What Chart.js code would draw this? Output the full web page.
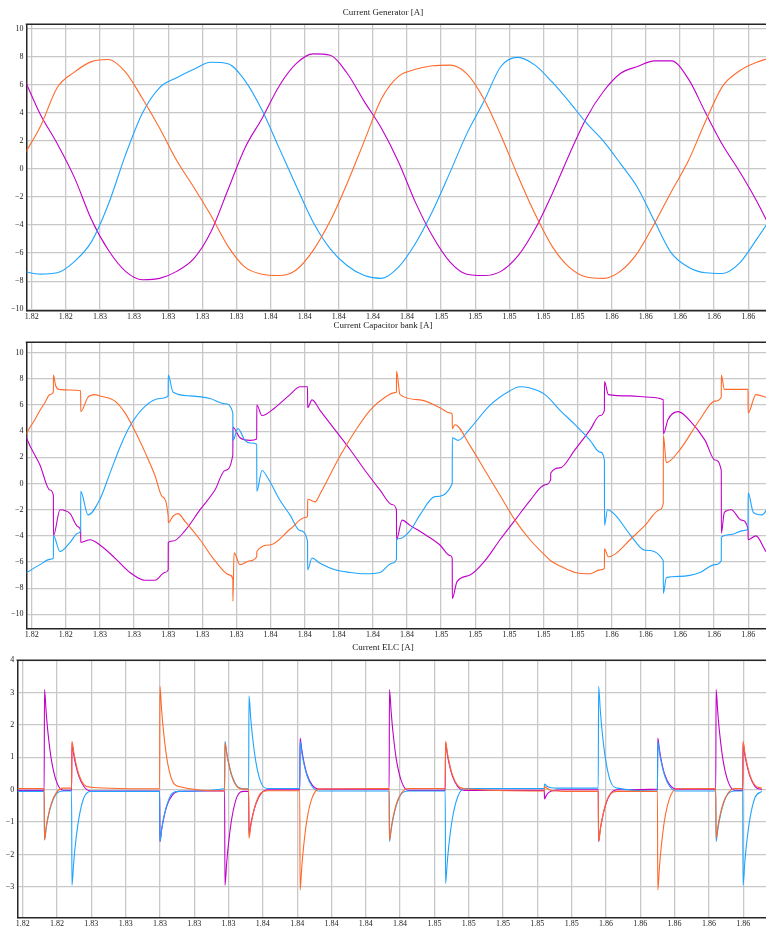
<!DOCTYPE html>
<html>
<head>
<meta charset="utf-8">
<script src="https://cdn.jsdelivr.net/npm/chart.js@4/dist/chart.umd.min.js"></script>
<style>
  html, body { margin: 0; padding: 0; background: #fff; width: 766px; height: 928px; overflow: hidden; }
  .panel { position: absolute; left: 0; width: 766px; }
</style>
</head>
<body>
<div class="panel" style="top:0;height:322px"><canvas id="gen"></canvas></div>
<div class="panel" style="top:312px;height:330px"><canvas id="cap"></canvas></div>
<div class="panel" style="top:636px;height:292px"><canvas id="elc"></canvas></div>
<script>
// ---- shared tick values (time axis, seconds) ----
const timeTicks = [1.822, 1.824, 1.826, 1.828, 1.830, 1.832, 1.834, 1.836, 1.838, 1.840, 1.842,
                   1.844, 1.846, 1.848, 1.850, 1.852, 1.854, 1.856, 1.858, 1.860, 1.862, 1.864];
const genTicks = [-10, -8, -6, -4, -2, 0, 2, 4, 6, 8, 10];
const capTicks = [-10, -8, -6, -4, -2, 0, 2, 4, 6, 8, 10];
const elcTicks = [-3, -2, -1, 0, 1, 2, 3, 4];

// ---- Generator currents [A] ----
const genTime = [1.8215, 1.8225, 1.8235, 1.8245, 1.8255, 1.8265, 1.8275, 1.8285, 1.8295, 1.8305,
                 1.8315, 1.8325, 1.8335, 1.8345, 1.8355, 1.8365, 1.8375, 1.8385, 1.8395, 1.8405,
                 1.8415, 1.8425, 1.8435, 1.8445, 1.8455, 1.8465, 1.8475, 1.8485, 1.8495, 1.8505,
                 1.8515, 1.8525, 1.8535, 1.8545, 1.8555, 1.8565, 1.8575, 1.8585, 1.8595, 1.8605,
                 1.8615, 1.8625, 1.8635, 1.8645, 1.8655];
const genA = [0.9, 3.0, 5.8, 6.9, 7.65, 7.8, 6.9, 5.0, 2.9, 0.6,
              -1.3, -3.3, -5.5, -7.0, -7.5, -7.6, -7.2, -5.8, -3.7, -1.0,
              2.0, 5.0, 6.6, 7.1, 7.35, 7.4, 6.8, 5.0, 2.4, -0.5,
              -3.2, -5.5, -7.0, -7.7, -7.8, -7.3, -6.0, -3.9, -1.6, 0.6,
              3.4, 5.9, 7.0, 7.6, 8.0];
const genB = [-7.3, -7.5, -7.4, -6.6, -5.2, -2.5, 1.0, 4.0, 5.8, 6.5,
              7.1, 7.6, 7.5, 6.3, 4.2, 1.5, -1.2, -3.8, -5.7, -6.9,
              -7.6, -7.8, -7.0, -5.3, -3.0, -0.3, 2.5, 4.8, 7.3, 7.95,
              7.4, 6.2, 4.8, 3.3, 2.0, 0.4, -1.3, -3.7, -6.0, -7.0,
              -7.4, -7.45, -6.7, -5.0, -3.2];
const genC = [6.6, 3.9, 1.8, -0.6, -3.6, -5.8, -7.3, -7.9, -7.8, -7.3,
              -6.4, -4.5, -1.5, 1.5, 3.6, 5.9, 7.5, 8.2, 8.1, 6.8,
              4.8, 2.9, 0.5, -2.4, -4.8, -6.6, -7.5, -7.6, -7.3, -6.2,
              -4.3, -1.8, 1.0, 3.6, 5.5, 6.8, 7.3, 7.7, 7.7, 6.4,
              4.0, 1.7, -0.2, -2.3, -4.7];

// ---- Capacitor bank currents [A] ----
const capTimeA = [1.82160, 1.82172, 1.82219, 1.82249, 1.82278, 1.82307, 1.82327, 1.823275, 1.82340, 1.82360,
                  1.82425, 1.82487, 1.824875, 1.82530, 1.82571, 1.82600, 1.82688, 1.82747, 1.82806, 1.82864,
                  1.82923, 1.82965, 1.83000, 1.830005, 1.83028, 1.83058, 1.83099, 1.83187, 1.83274, 1.83362,
                  1.83379, 1.833795, 1.83386, 1.83421, 1.83480, 1.83519, 1.835195, 1.83597, 1.83714, 1.83802,
                  1.83817, 1.838175, 1.83861, 1.83890, 1.84007, 1.84095, 1.84183, 1.84271, 1.84330, 1.84338,
                  1.843385, 1.84359, 1.84476, 1.84593, 1.84652, 1.84665, 1.846655, 1.84681, 1.84769, 1.84857,
                  1.84945, 1.85033, 1.85121, 1.85209, 1.85242, 1.85297, 1.85385, 1.85473, 1.85531, 1.85557,
                  1.855575, 1.85580, 1.85620, 1.85707, 1.85795, 1.85883, 1.85902, 1.859025, 1.85920, 1.86000,
                  1.86117, 1.86205, 1.86242, 1.862425, 1.86260, 1.86330, 1.86399, 1.863995, 1.86445, 1.86504,
                  1.86530];
const capA = [3.6, 3.9, 4.9, 5.6, 6.2, 6.8, 7.0, 8.3, 7.5, 7.2,
              7.15, 7.1, 5.5, 6.6, 6.8, 6.7, 6.3, 5.4, 4.0, 2.4,
              0.6, -1.0, -2.5, -3.0, -2.5, -2.3, -2.9, -4.3, -5.9, -7.0,
              -7.3, -9.0, -5.3, -6.2, -5.9, -5.6, -5.2, -4.7, -3.5, -2.6,
              -2.5, -1.2, -1.4, -0.8, 2.1, 4.0, 5.6, 6.6, 6.95, 7.0,
              8.6, 6.8, 6.4, 5.8, 5.4, 5.3, 4.2, 4.5, 2.9, 1.0,
              -0.9, -2.8, -4.3, -5.5, -5.9, -6.3, -6.8, -6.9, -6.6, -6.5,
              -5.0, -5.6, -5.4, -4.3, -3.2, -2.0, -1.5, 3.7, 1.6, 2.6,
              4.9, 6.3, 6.6, 8.3, 7.2, 7.2, 7.2, 5.4, 6.8, 6.6,
              6.5];
const capTimeB = [1.82160, 1.82172, 1.82249, 1.82307, 1.82327, 1.823275, 1.82366, 1.82425, 1.82471, 1.82487,
                  1.824875, 1.82530, 1.82600, 1.82659, 1.82718, 1.82776, 1.82864, 1.82952, 1.83000, 1.830005,
                  1.83028, 1.83128, 1.83245, 1.83333, 1.83379, 1.833795, 1.83409, 1.83450, 1.83480, 1.83519,
                  1.835195, 1.83550, 1.83585, 1.83656, 1.83714, 1.83773, 1.83817, 1.838175, 1.83843, 1.83890,
                  1.83978, 1.84066, 1.84154, 1.84242, 1.84312, 1.84338, 1.843385, 1.84359, 1.84418, 1.84476,
                  1.84564, 1.84665, 1.846655, 1.84699, 1.84769, 1.84887, 1.85004, 1.85062, 1.85121, 1.85209,
                  1.85297, 1.85385, 1.85473, 1.85531, 1.85557, 1.855575, 1.85575, 1.85620, 1.85707, 1.85795,
                  1.85902, 1.859025, 1.85920, 1.86000, 1.86117, 1.86205, 1.86242, 1.862425, 1.86300, 1.86370,
                  1.86399, 1.863995, 1.86430, 1.86480, 1.86530];
const capB = [-6.9, -6.8, -6.2, -5.8, -5.7, -4.0, -5.2, -4.5, -3.8, -3.6,
              -0.6, -2.4, -1.2, 0.8, 2.8, 4.4, 5.9, 6.5, 6.7, 8.3,
              7.0, 6.7, 6.5, 6.1, 5.4, 3.3, 4.2, 3.3, 3.1, 3.0,
              -0.6, 1.0, 0.4, -1.3, -2.4, -3.6, -4.4, -6.6, -5.7, -6.1,
              -6.6, -6.8, -6.9, -6.8, -6.1, -5.8, -4.3, -4.2, -3.6, -2.4,
              -1.0, 0.0, 3.5, 3.3, 4.2, 6.0, 7.1, 7.4, 7.3, 6.8,
              5.6, 4.5, 3.3, 2.4, 1.8, -3.2, -2.0, -2.4, -3.9, -5.1,
              -5.9, -8.4, -7.2, -7.1, -6.8, -6.2, -5.9, -4.1, -3.9, -3.6,
              -3.5, -0.7, -2.2, -2.4, -1.5];
const capTimeC = [1.82160, 1.82172, 1.82249, 1.82307, 1.82327, 1.823275, 1.82366, 1.82425, 1.82471, 1.82487,
                  1.824875, 1.82542, 1.82600, 1.82688, 1.82776, 1.82864, 1.82923, 1.82981, 1.83000, 1.830005,
                  1.83028, 1.83099, 1.83187, 1.83274, 1.83333, 1.83379, 1.833795, 1.83421, 1.83480, 1.83519,
                  1.835195, 1.83550, 1.83626, 1.83714, 1.83773, 1.83817, 1.838175, 1.83843, 1.83890, 1.83978,
                  1.84066, 1.84154, 1.84242, 1.84312, 1.84338, 1.843385, 1.84371, 1.84418, 1.84505, 1.84593,
                  1.84652, 1.84665, 1.846655, 1.84693, 1.84769, 1.84857, 1.84945, 1.85033, 1.85121, 1.85209,
                  1.85242, 1.852425, 1.85297, 1.85385, 1.85473, 1.85531, 1.85557, 1.855575, 1.85580, 1.85707,
                  1.85824, 1.85902, 1.859025, 1.85930, 1.85989, 1.86059, 1.86147, 1.86205, 1.86242, 1.862425,
                  1.86260, 1.86300, 1.86360, 1.86399, 1.863995, 1.86445, 1.86504, 1.86530];
const capC = [3.9, 3.4, 1.4, -0.5, -0.9, -4.0, -2.0, -2.3, -3.3, -3.6,
              -4.5, -4.3, -4.7, -5.7, -6.8, -7.4, -7.4, -6.8, -6.6, -4.5,
              -4.4, -3.6, -2.0, -0.5, 1.0, 2.2, 4.3, 3.5, 3.3, 3.4,
              6.0, 5.2, 5.8, 6.8, 7.4, 7.4, 5.8, 6.4, 5.6, 4.1,
              2.6, 1.0, -0.5, -1.6, -2.0, -4.3, -2.8, -3.2, -3.9, -4.7,
              -5.5, -5.7, -8.8, -7.5, -7.0, -5.9, -4.3, -2.8, -1.3, -0.1,
              0.3, 0.8, 1.2, 2.6, 4.1, 5.2, 5.6, 7.8, 6.8, 6.7,
              6.6, 6.4, 3.8, 4.9, 5.5, 4.8, 3.3, 1.8, 1.0, -3.8,
              -2.2, -2.0, -2.8, -3.5, -4.3, -4.0, -5.2, -5.6];

// ---- ELC currents [A] ----
const elcTime = [1.8217,
  1.82325, 1.82327, 1.82337, 1.82347, 1.82367, 1.82397, 1.82437,
  1.82485, 1.82487, 1.82497, 1.82507, 1.82527, 1.82557, 1.82597,
  1.82998, 1.83000, 1.83010, 1.83020, 1.83040, 1.83070, 1.83110,
  1.83377, 1.83379, 1.83389, 1.83399, 1.83419, 1.83449, 1.83489,
  1.83517, 1.83519, 1.83529, 1.83539, 1.83559, 1.83589, 1.83629,
  1.83815, 1.83817, 1.83827, 1.83837, 1.83857, 1.83887, 1.83927,
  1.84336, 1.84338, 1.84348, 1.84358, 1.84378, 1.84408, 1.84448,
  1.84663, 1.84665, 1.84675, 1.84685, 1.84705, 1.84735, 1.84775,
  1.85240, 1.85242, 1.85252, 1.85262, 1.85282, 1.85312, 1.85352,
  1.85555, 1.85557, 1.85567, 1.85577, 1.85597, 1.85627, 1.85667,
  1.85900, 1.85902, 1.85912, 1.85922, 1.85942, 1.85972, 1.86012,
  1.86240, 1.86242, 1.86252, 1.86262, 1.86282, 1.86312, 1.86352,
  1.86397, 1.86399, 1.86409, 1.86419, 1.86439, 1.86469, 1.86509,
  1.8655];
const elcA = [0.04,
  0.04, -1.55, -1.15, -0.85, -0.42, -0.08, 0.05,
  0.05, 1.50, 1.18, 0.90, 0.48, 0.16, 0.08,
  0.03, 3.20, 2.45, 1.85, 0.98, 0.30, 0.10,
  -0.03, 1.45, 1.12, 0.85, 0.42, 0.10, 0.02,
  0.02, -1.50, -1.15, -0.85, -0.43, -0.10, -0.03,
  -0.03, -3.10, -2.38, -1.78, -0.92, -0.25, 0.02,
  0.04, -1.55, -1.18, -0.88, -0.44, -0.10, 0.04,
  0.04, 1.50, 1.16, 0.88, 0.46, 0.14, 0.03,
  -0.04, 0.10, 0.06, 0.03, -0.02, -0.04, -0.05,
  -0.05, -1.60, -1.22, -0.92, -0.47, -0.12, -0.05,
  -0.05, -3.10, -2.38, -1.78, -0.92, -0.25, 0.03,
  0.04, -1.50, -1.15, -0.86, -0.44, -0.10, 0.04,
  0.04, 1.50, 1.16, 0.88, 0.46, 0.14,
  0.05];
const elcB = [-0.05,
  -0.05, -1.55, -1.18, -0.88, -0.46, -0.12, -0.04,
  -0.04, -2.95, -2.27, -1.70, -0.90, -0.24, -0.05,
  -0.05, -1.60, -1.23, -0.92, -0.48, -0.12, -0.05,
  0.04, 1.50, 1.16, 0.87, 0.45, 0.12, 0.03,
  0.03, 2.90, 2.23, 1.67, 0.87, 0.22, 0.04,
  0.04, 1.50, 1.15, 0.86, 0.44, 0.10, -0.04,
  -0.04, -1.60, -1.23, -0.92, -0.48, -0.12, -0.04,
  -0.04, -2.90, -2.23, -1.67, -0.88, -0.23, 0.04,
  0.04, 0.18, 0.13, 0.09, 0.06, 0.05, 0.05,
  0.05, 3.20, 2.46, 1.84, 0.96, 0.25, 0.05,
  -0.04, 1.50, 1.15, 0.86, 0.44, 0.10, -0.04,
  -0.04, -1.60, -1.23, -0.92, -0.48, -0.12, -0.04,
  -0.04, -2.95, -2.27, -1.70, -0.90, -0.24,
  -0.05];
const elcC = [-0.02,
  -0.02, 3.10, 2.38, 1.78, 0.93, 0.25, -0.02,
  -0.02, 1.45, 1.10, 0.82, 0.42, 0.10, -0.04,
  -0.04, -1.60, -1.22, -0.93, -0.50, -0.18, -0.05,
  -0.03, -2.95, -2.27, -1.70, -0.88, -0.22, -0.05,
  -0.05, -1.40, -1.08, -0.82, -0.44, -0.12, 0.00,
  0.00, 1.60, 1.23, 0.92, 0.48, 0.15, 0.02,
  0.02, 3.10, 2.40, 1.80, 0.94, 0.26, -0.02,
  -0.02, 1.45, 1.10, 0.82, 0.42, 0.10, -0.02,
  -0.02, -0.28, -0.18, -0.10, -0.04, -0.01, 0.00,
  0.00, -1.60, -1.22, -0.92, -0.48, -0.12, 0.00,
  0.02, 1.60, 1.23, 0.92, 0.48, 0.15, 0.02,
  0.02, 3.10, 2.38, 1.78, 0.93, 0.25, -0.02,
  -0.02, 1.45, 1.10, 0.82, 0.42, 0.10,
  0.00];

const colA = '#ff6a2b';
const colB = '#1ea4ff';
const colC = '#c000c8';
const serif = "'Liberation Serif', 'DejaVu Serif', serif";

function pts(ts, vs) { return ts.map((t, i) => ({ x: t, y: vs[i] })); }
function fmtMinus(v) { return v < 0 ? '\u2212' + Math.abs(v) : String(v); }

// frame line along the top of the plot area
const topFrame = {
  id: 'topFrame',
  afterDraw(chart) {
    const a = chart.chartArea, ctx = chart.ctx;
    ctx.save();
    ctx.strokeStyle = '#262626';
    ctx.lineWidth = 1.5;
    ctx.beginPath();
    ctx.moveTo(a.left - 0.75, a.top);
    ctx.lineTo(a.right + 2, a.top);
    ctx.stroke();
    ctx.restore();
  }
};

function makeChart(id, cfg) {
  const ds = [
    { data: pts(cfg.tA, cfg.a), borderColor: colA },
    { data: pts(cfg.tB, cfg.b), borderColor: colB },
    { data: pts(cfg.tC, cfg.c), borderColor: colC }
  ].map(d => Object.assign(d, { borderWidth: 1.1, pointRadius: 0, fill: false,
                                 cubicInterpolationMode: 'monotone' }));
  return new Chart(document.getElementById(id), {
    type: 'line',
    data: { datasets: ds },
    plugins: [topFrame],
    options: {
      responsive: true,
      maintainAspectRatio: false,
      animation: false,
      devicePixelRatio: 1,
      layout: { padding: 0 },
      plugins: {
        legend: { display: false },
        tooltip: { enabled: false },
        title: {
          display: true,
          text: cfg.title,
          color: '#222',
          font: { family: serif, size: 9, weight: 'normal' },
          padding: { top: cfg.titleTop, bottom: cfg.titleBottom }
        }
      },
      scales: {
        x: {
          type: 'linear',
          min: cfg.xMin, max: cfg.xMax,
          afterBuildTicks: s => { s.ticks = timeTicks.map(v => ({ value: v })); },
          afterFit: s => { s.height = cfg.xAxisH; },
          ticks: {
            callback: v => v.toFixed(2),
            color: '#222', font: { family: serif, size: 8 },
            maxRotation: 0, autoSkip: false, padding: 2
          },
          grid: { color: '#c8c8c8', lineWidth: 1.3, drawTicks: false },
          border: { display: true, color: '#262626', width: 1.5 }
        },
        y: {
          min: cfg.yMin, max: cfg.yMax,
          afterBuildTicks: s => { s.ticks = cfg.yTicks.map(v => ({ value: v })); },
          afterFit: s => { s.width = cfg.yAxisW; },
          ticks: {
            callback: v => fmtMinus(v),
            color: '#222', font: { family: serif, size: 8 }, padding: 3
          },
          grid: { color: '#c8c8c8', lineWidth: 1.3, drawTicks: false },
          border: { display: true, color: '#262626', width: 1.5 }
        }
      }
    }
  });
}

makeChart('gen', {
  title: 'Current Generator [A]', titleTop: 7, titleBottom: 6.5,
  tA: genTime, a: genA, tB: genTime, b: genB, tC: genTime, c: genC,
  xMin: 1.821695, xMax: 1.865042, yMin: -10.09, yMax: 10.31, yTicks: genTicks,
  xAxisH: 11.5, yAxisW: 26.5
});
makeChart('cap', {
  title: 'Current Capacitor bank [A]', titleTop: 8.6, titleBottom: 10.9,
  tA: capTimeA, a: capA, tB: capTimeB, b: capB, tC: capTimeC, c: capC,
  xMin: 1.821695, xMax: 1.865042, yMin: -11.07, yMax: 10.8, yTicks: capTicks,
  xAxisH: 13.7, yAxisW: 26.5
});
makeChart('elc', {
  title: 'Current ELC [A]', titleTop: 6.6, titleBottom: 6.9,
  tA: elcTime, a: elcA, tB: elcTime, b: elcB, tC: elcTime, c: elcC,
  xMin: 1.821685, xMax: 1.865329, yMin: -3.94, yMax: 4.0, yTicks: elcTicks,
  xAxisH: 10.7, yAxisW: 17.3
});
</script>
</body>
</html>
